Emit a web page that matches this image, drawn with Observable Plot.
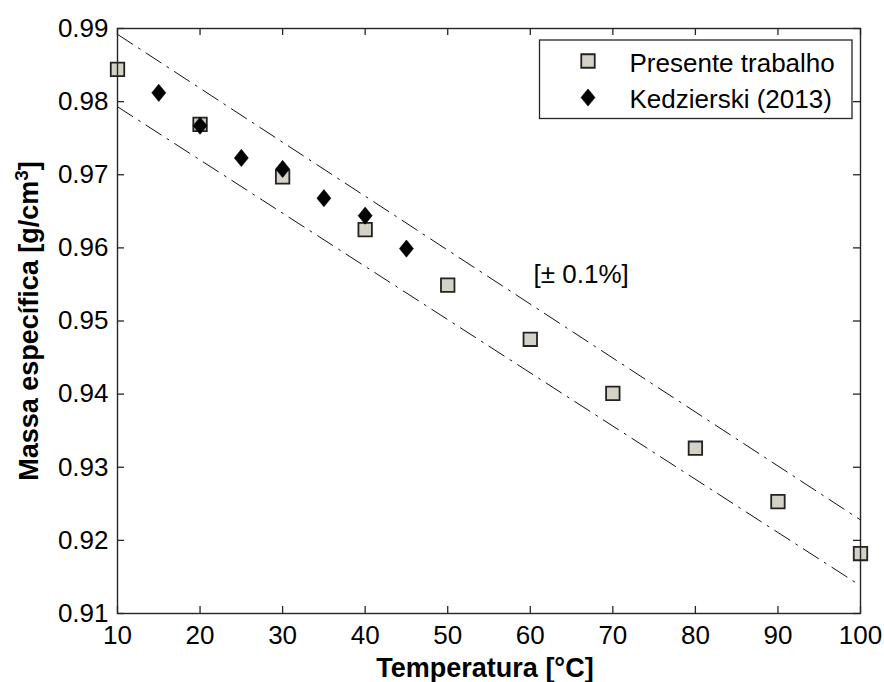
<!DOCTYPE html>
<html>
<head>
<meta charset="utf-8">
<script src="https://cdn.jsdelivr.net/npm/d3@7"></script>
<script src="https://cdn.jsdelivr.net/npm/@observablehq/plot@0.6"></script>
<style>
  html, body { margin: 0; padding: 0; background: #fff; }
  #chart svg { display: block; }
</style>
</head>
<body>
<div id="chart"></div>
<script>
// Massa específica vs temperatura: medições do presente trabalho e dados de Kedzierski (2013)
const temperaturas = [10, 20, 30, 40, 50, 60, 70, 80, 90, 100];
const presenteTrabalho = [0.9844, 0.9769, 0.9697, 0.9625, 0.9549, 0.9475, 0.9401, 0.9326, 0.9253, 0.9182];

const temperaturasKedzierski = [15, 20, 25, 30, 35, 40, 45];
const kedzierski = [0.9812, 0.9767, 0.9723, 0.9708, 0.9668, 0.9644, 0.9599];

// faixa de desvio (limites superior e inferior) nas extremidades do intervalo
const faixaTemperaturas = [10, 100];
const faixaSuperior = [0.9892, 0.9228];
const faixaInferior = [0.9793, 0.9138];

const xTicks = [10, 20, 30, 40, 50, 60, 70, 80, 90, 100];
const yTicks = [0.91, 0.92, 0.93, 0.94, 0.95, 0.96, 0.97, 0.98, 0.99];

const serieNomes = ["Presente trabalho", "Kedzierski (2013)"];
const rotuloX = "Temperatura [°C]";
const rotuloY = "Massa específica [g/cm3]";
const anotacao = [{texto: "[± 0.1%]", t: 60.4, rho: 0.9564}];

const presente = temperaturas.map((t, i) => ({t, rho: presenteTrabalho[i]}));
const kedz = temperaturasKedzierski.map((t, i) => ({t, rho: kedzierski[i]}));
const faixaSup = faixaTemperaturas.map((t, i) => ({t, rho: faixaSuperior[i]}));
const faixaInf = faixaTemperaturas.map((t, i) => ({t, rho: faixaInferior[i]}));

const W = 884, H = 682;
const mL = 117, mR = 24, mT = 28, mB = 69;
const innerW = W - mL - mR, innerH = H - mT - mB;
const tick = 7;
const ink = "#262626";
const fillQuadrado = "#d4d2c7";

// losango estilo MATLAB (mais alto que largo)
const losango = {
  draw(ctx) {
    const h = 8.6, w = 7;
    ctx.moveTo(0, -h); ctx.lineTo(w, 0); ctx.lineTo(0, h); ctx.lineTo(-w, 0); ctx.closePath();
  }
};

const quadrado = {symbol: "square", r: 7.6, fill: fillQuadrado, stroke: "#222", strokeWidth: 1.8};
const marcaLosango = {symbol: losango, fill: "#000", stroke: "#000", strokeWidth: 0.6};

const dash = "18,7,2,7";

const plot = Plot.plot({
  width: W, height: H,
  marginLeft: mL, marginRight: mR, marginTop: mT, marginBottom: mB,
  style: {fontFamily: "'Liberation Sans', Arial, Helvetica, sans-serif", fontSize: "26px", background: "#fff", color: "#000"},
  x: {domain: [10, 100], axis: null, label: null},
  y: {domain: [0.91, 0.99], axis: null, label: null},
  marks: [
    // faixa de desvio (traço-ponto)
    Plot.line(faixaSup, {x: "t", y: "rho", stroke: "#111", strokeWidth: 1, strokeDasharray: dash}),
    Plot.line(faixaInf, {x: "t", y: "rho", stroke: "#111", strokeWidth: 1, strokeDasharray: dash}),

    // ticks internos nos quatro lados
    Plot.tickX(xTicks, {x: d => d, insetTop: innerH - tick, stroke: ink, strokeWidth: 1.3}),
    Plot.tickX(xTicks, {x: d => d, insetBottom: innerH - tick, stroke: ink, strokeWidth: 1.3}),
    Plot.tickY(yTicks, {y: d => d, insetRight: innerW - tick, stroke: ink, strokeWidth: 1.3}),
    Plot.tickY(yTicks, {y: d => d, insetLeft: innerW - tick, stroke: ink, strokeWidth: 1.3}),

    // rótulos dos ticks
    Plot.axisX(xTicks, {tickSize: 0, tickPadding: 12, fontSize: 26, fill: "#000", label: null, tickFormat: d3.format("d")}),
    Plot.axisY(yTicks, {tickSize: 0, tickPadding: 9, fontSize: 26, fill: "#000", label: null, tickFormat: d3.format(".2f")}),

    // séries
    Plot.dot(presente, {x: "t", y: "rho", ...quadrado}),
    Plot.dot(kedz, {x: "t", y: "rho", ...marcaLosango}),

    // anotação da faixa
    Plot.text(anotacao, {x: "t", y: "rho", text: "texto", textAnchor: "start", lineAnchor: "middle", fontSize: 26, fill: "#000"}),

    // moldura dos eixos
    Plot.frame({stroke: ink, strokeWidth: 1.4}),

    // legenda
    Plot.frame({insetLeft: 539 - mL, insetTop: 39.5 - mT, insetRight: W - mR - 851.5, insetBottom: H - mB - 118,
                fill: "#fff", stroke: ink, strokeWidth: 1.3}),
    Plot.dot([serieNomes[0]], {frameAnchor: "top-left", dx: 587.5 - mL, dy: 60.5 - mT, ...quadrado}),
    Plot.dot([serieNomes[1]], {frameAnchor: "top-left", dx: 587.5 - mL, dy: 97 - mT, ...marcaLosango}),
    Plot.text([serieNomes[0]], {text: d => d, frameAnchor: "top-left", dx: 629 - mL, dy: 71 - mT,
                                textAnchor: "start", lineAnchor: "bottom", fontSize: 26, fill: "#000"}),
    Plot.text([serieNomes[1]], {text: d => d, frameAnchor: "top-left", dx: 629 - mL, dy: 107 - mT,
                                textAnchor: "start", lineAnchor: "bottom", fontSize: 26, fill: "#000"}),

    // títulos dos eixos
    Plot.text([rotuloX], {text: d => d, frameAnchor: "bottom", dx: -4, dy: 63.5, textAnchor: "middle", lineAnchor: "bottom",
                          fontSize: 27, fontWeight: "bold", fill: "#000"}),
    Plot.text([rotuloY], {text: d => d, frameAnchor: "left", dx: -80, rotate: -90, textAnchor: "middle", lineAnchor: "bottom",
                          fontSize: 27, fontWeight: "bold", fill: "#000"})
  ]
});

document.getElementById("chart").appendChild(plot);

// expoente "3" em g/cm³
d3.select(plot).selectAll("text").filter(function () { return this.textContent === rotuloY; })
  .each(function () {
    const el = d3.select(this);
    el.text(null);
    el.append("tspan").text("Massa específica [g/cm");
    el.append("tspan").attr("dy", "-10").attr("font-size", "19").text("3");
    el.append("tspan").attr("dy", "10").text("]");
  });
</script>
</body>
</html>
